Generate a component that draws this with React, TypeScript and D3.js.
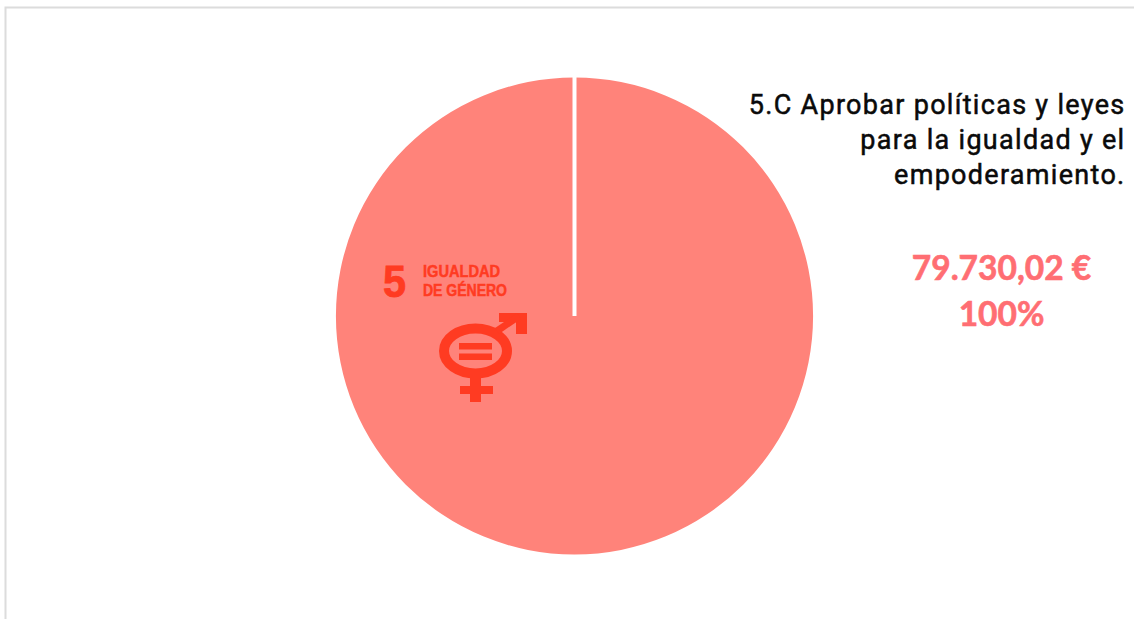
import React from "react";
import * as d3 from "d3";

const categories = ["5.C Aprobar políticas y leyes para la igualdad y el empoderamiento."];
const values = [79730.02];
const titleLines = ["5.C Aprobar políticas y leyes", "para la igualdad y el", "empoderamiento."];
const valueLabels = ["79.730,02 €", "100%"];
const iconLabels = ["IGUALDAD", "DE GÉNERO"];

const W = 1134, H = 619;
const cx = 574.5, cy = 316, R = 238.5;
const PIE = "#FF837A", ICON = "#FF3B22", VALUE = "#FF6E73";

export default function App() {
  const slices = d3.pie<number>().sort(null)(values);
  const arc = d3.arc<d3.PieArcDatum<number>>().innerRadius(0).outerRadius(R);
  const [ex, ey] = d3.pointRadial(slices[0].startAngle, R + 1);
  return (
    <svg width={W} height={H} style={{ position: "absolute", left: 0, top: 0, background: "#fff" }}>
      <path d={`M5.5 ${H}V7.5H${W}`} fill="none" stroke="#DCDCDC" strokeWidth={2} />
      <g transform={`translate(${cx},${cy})`}>
        {slices.map((s, i) => <path key={categories[i]} d={arc(s) ?? ""} fill={PIE} />)}
        <line x1={0} y1={0} x2={ex} y2={ey} stroke="#fff" strokeWidth={4} />
      </g>
      <g fill={ICON}>
        <text x={383} y={297} fontFamily="Liberation Sans" fontWeight={700} fontSize={44} textLength={23} lengthAdjust="spacingAndGlyphs" stroke={ICON} strokeWidth={0.8}>5</text>
        <text x={423} y={277} fontFamily="Liberation Sans" fontWeight={700} fontSize={16} textLength={77} lengthAdjust="spacingAndGlyphs" stroke={ICON} strokeWidth={0.5}>{iconLabels[0]}</text>
        <text x={423} y={296} fontFamily="Liberation Sans" fontWeight={700} fontSize={16} textLength={84} lengthAdjust="spacingAndGlyphs" stroke={ICON} strokeWidth={0.5}>{iconLabels[1]}</text>
        <ellipse cx={475.5} cy={351} rx={31.5} ry={22.5} fill="none" stroke={ICON} strokeWidth={10} />
        <rect x={459} y={343} width={33} height={6.5} />
        <rect x={459} y={353.5} width={33} height={6.5} />
        <rect x={470} y={377} width={11} height={25} />
        <rect x={460} y={386} width={33} height={8} />
        <path d="M499 313H527V334H516V322H499Z" />
        <path d="M497 331L519 316" stroke={ICON} strokeWidth={7} fill="none" />
      </g>
      <g textAnchor="end" fontFamily="Roboto" fontSize={27} fontWeight={400} fill="#0A0A0A" stroke="#0A0A0A" strokeWidth={0.5} letterSpacing={1.3}>
        {titleLines.map((t, i) => <text key={t} x={1125.5} y={114 + i * 35}>{t}</text>)}
      </g>
      <g textAnchor="middle" fontFamily="Lato" fontSize={33.5} fontWeight={700} fill={VALUE} stroke={VALUE} strokeWidth={0.6}>
        {valueLabels.map((t, i) => <text key={t} x={1001.5} y={279.5 + i * 46}>{t}</text>)}
      </g>
    </svg>
  );
}
